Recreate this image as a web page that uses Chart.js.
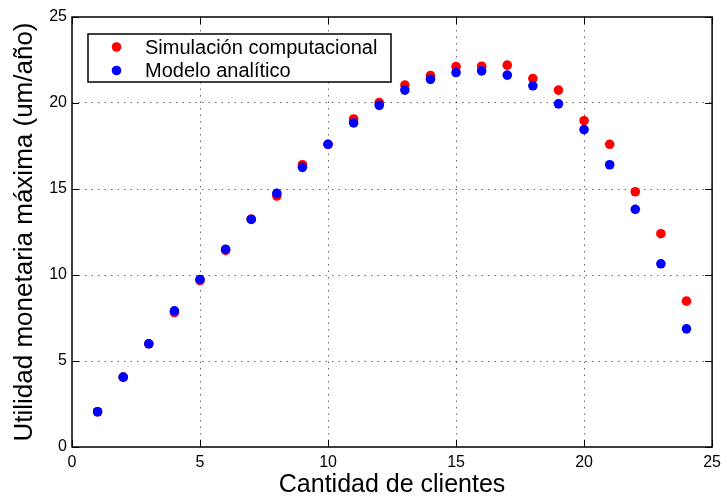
<!DOCTYPE html>
<html>
<head>
<meta charset="utf-8">
<script src="https://cdn.jsdelivr.net/npm/chart.js@4/dist/chart.umd.min.js"></script>
<style>
    html, body { margin: 0; padding: 0; background: #fff; }
    #wrap { width: 727px; height: 498px; position: relative; }
</style>
</head>
<body>
<div id="wrap"><canvas id="chart"></canvas></div>
<script>
// Clients on the x axis, max yearly profit for each method
const clientes = [1, 2, 3, 4, 5, 6, 7, 8, 9, 10, 11, 12, 13, 14, 15, 16, 17, 18, 19, 20, 21, 22, 23, 24];
const simulacion = [2.05, 4.06, 6.0, 7.82, 9.68, 11.43, 13.25, 14.59, 16.41, 17.6, 19.07, 20.02,
    21.04, 21.6, 22.12, 22.14, 22.2, 21.42, 20.75, 18.97, 17.6, 14.84, 12.4, 8.48];
const analitico = [2.05, 4.06, 6.0, 7.92, 9.74, 11.5, 13.23, 14.75, 16.26, 17.6, 18.84, 19.87,
    20.75, 21.38, 21.77, 21.87, 21.62, 21.0, 19.95, 18.45, 16.41, 13.82, 10.65, 6.87];
const serieNombres = ['Simulación computacional', 'Modelo analítico'];
const serieColores = ['#ff0000', '#0000ff'];
const xTicks = [0, 5, 10, 15, 20, 25];
const yTicks = [0, 5, 10, 15, 20, 25];

const FONT = '"Liberation Sans", Arial, Helvetica, sans-serif';

function toPoints(xs, ys) {
    return xs.map((x, i) => ({ x: x, y: ys[i] }));
}

// hide grid lines that sit on the frame
function gridColor(ctx) {
    const v = ctx.tick ? ctx.tick.value : null;
    if (v === 0 || v === 25) return 'rgba(0,0,0,0)';
    return 'rgba(0,0,0,0.6)';
}

// matlab-style box: frame plus inward ticks on all four sides
const boxPlugin = {
    id: 'boxFrame',
    afterDatasetsDraw(chart) {
        const { ctx, chartArea: a, scales } = chart;
        const len = 7;
        ctx.save();
        ctx.strokeStyle = '#000';
        ctx.lineWidth = 1.5;
        ctx.strokeRect(a.left, a.top, a.right - a.left, a.bottom - a.top);
        ctx.lineWidth = 1;
        ctx.beginPath();
        xTicks.forEach(v => {
            const px = Math.round(scales.x.getPixelForValue(v)) + 0.5;
            ctx.moveTo(px, a.bottom); ctx.lineTo(px, a.bottom - len);
            ctx.moveTo(px, a.top); ctx.lineTo(px, a.top + len);
        });
        yTicks.forEach(v => {
            const py = Math.round(scales.y.getPixelForValue(v)) + 0.5;
            ctx.moveTo(a.left, py); ctx.lineTo(a.left + len, py);
            ctx.moveTo(a.right, py); ctx.lineTo(a.right - len, py);
        });
        ctx.stroke();

        // legend box in the upper left corner
        const lx = 88, ly = 34, lw = 303, lh = 48;
        ctx.fillStyle = '#fff';
        ctx.fillRect(lx, ly, lw, lh);
        ctx.lineWidth = 1.5;
        ctx.strokeRect(lx, ly, lw, lh);
        ctx.font = '20px ' + FONT;
        ctx.textBaseline = 'middle';
        ctx.textAlign = 'left';
        serieNombres.forEach((name, i) => {
            const cy = ly + 13 + i * 23.5;
            ctx.fillStyle = serieColores[i];
            ctx.beginPath();
            ctx.arc(116.5, cy, 4.8, 0, Math.PI * 2);
            ctx.fill();
            ctx.fillStyle = '#000';
            ctx.fillText(name, 145, cy + 1);
        });
        ctx.restore();
    }
};

new Chart(document.getElementById('chart'), {
    type: 'scatter',
    data: {
        datasets: [
            {
                label: serieNombres[0],
                data: toPoints(clientes, simulacion),
                backgroundColor: serieColores[0],
                borderWidth: 0,
                pointRadius: 4.8,
                pointHoverRadius: 4.8,
                order: 1
            },
            {
                label: serieNombres[1],
                data: toPoints(clientes, analitico),
                backgroundColor: serieColores[1],
                borderWidth: 0,
                pointRadius: 4.8,
                pointHoverRadius: 4.8,
                order: 0
            }
        ]
    },
    options: {
        responsive: true,
        maintainAspectRatio: false,
        animation: false,
        layout: { padding: { top: 17, right: 11, left: 0, bottom: 0 } },
        plugins: {
            legend: { display: false },
            tooltip: { enabled: false }
        },
        scales: {
            x: {
                type: 'linear',
                min: 0,
                max: 25,
                afterBuildTicks: s => { s.ticks = xTicks.map(v => ({ value: v })); },
                afterFit: s => { s.height = 51; },
                grid: { color: gridColor, drawTicks: false, lineWidth: 1 },
                border: { display: false, dash: [1.5, 5] },
                ticks: { color: '#000', font: { family: FONT, size: 16 }, padding: 6, maxRotation: 0 },
                title: {
                    display: true,
                    text: 'Cantidad de clientes',
                    color: '#000',
                    font: { family: FONT, size: 25, lineHeight: 1 },
                    padding: { top: 0, bottom: 0 }
                }
            },
            y: {
                type: 'linear',
                min: 0,
                max: 25,
                afterBuildTicks: s => { s.ticks = yTicks.map(v => ({ value: v })); },
                afterFit: s => { s.width = 72; },
                grid: { color: gridColor, drawTicks: false, lineWidth: 1 },
                border: { display: false, dash: [1.5, 5] },
                ticks: { color: '#000', font: { family: FONT, size: 16 }, padding: 5 },
                title: {
                    display: true,
                    text: 'Utilidad monetaria máxima (um/año)',
                    color: '#000',
                    font: { family: FONT, size: 26, lineHeight: 1 },
                    padding: { top: 12, bottom: 0 }
                }
            }
        }
    },
    plugins: [boxPlugin]
});
</script>
</body>
</html>
